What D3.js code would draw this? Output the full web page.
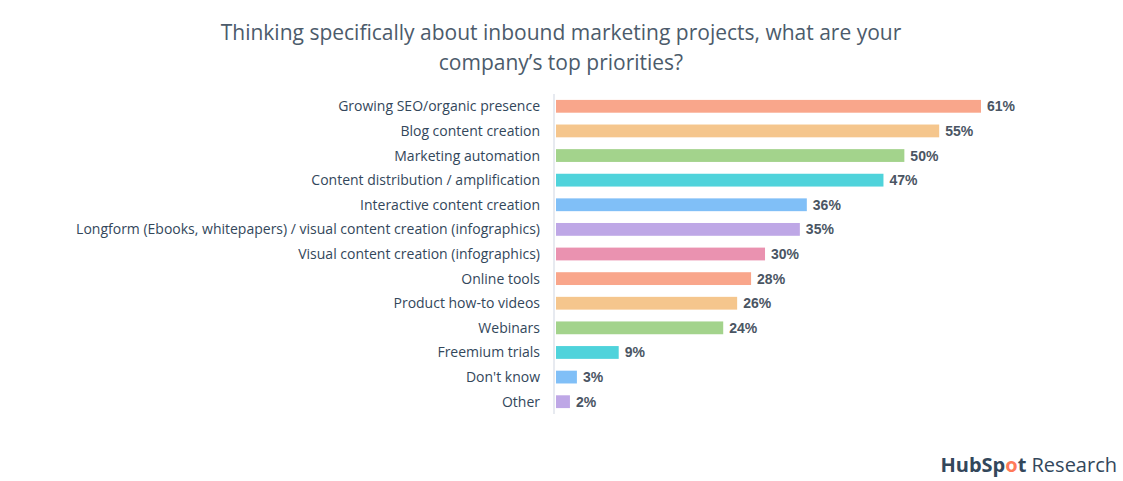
<!DOCTYPE html>
<html><head><meta charset="utf-8">
<script src="https://cdn.jsdelivr.net/npm/d3@7"></script>
<style>body{margin:0;background:#fff;font-family:"Open Sans",sans-serif}</style>
</head><body><div id="chart"></div>
<script>
const categories = ['Growing SEO/organic presence','Blog content creation','Marketing automation','Content distribution / amplification','Interactive content creation','Longform (Ebooks, whitepapers) / visual content creation (infographics)','Visual content creation (infographics)','Online tools','Product how-to videos','Webinars','Freemium trials',"Don't know",'Other'];
const values = [61,55,50,47,36,35,30,28,26,24,9,3,2];
const palette = ['#f9a68b','#f5c68d','#a3d38c','#4fd3db','#80bff7','#bea7e6','#ea92b0'];

const W = 1123, H = 481;
const svg = d3.select('#chart').append('svg').attr('width', W).attr('height', H);

svg.append('text').attr('x', 561).attr('y', 40).attr('text-anchor','middle')
  .attr('fill','#4c5b6b').attr('font-size',21).text('Thinking specifically about inbound marketing projects, what are your');
svg.append('text').attr('x', 561).attr('y', 70).attr('text-anchor','middle')
  .attr('fill','#4c5b6b').attr('font-size',21).text('company\u2019s top priorities?');

const x = d3.scaleLinear().domain([0, 61]).range([556, 981]);
const y = d3.scaleBand().domain(categories).range([94, 414]).paddingInner(0.48).paddingOuter(0.24);

svg.append('line').attr('x1',554).attr('x2',554).attr('y1',94).attr('y2',414)
  .attr('stroke','#dfe3eb').attr('stroke-width',1.5);

svg.selectAll('rect.bar').data(values).enter().append('rect')
  .attr('x', x(0)).attr('y', (d,i) => y(categories[i]))
  .attr('width', d => x(d) - x(0)).attr('height', y.bandwidth())
  .attr('fill', (d,i) => palette[i % palette.length]);

svg.selectAll('text.val').data(values).enter().append('text')
  .attr('x', d => x(d) + 6).attr('y', (d,i) => y(categories[i]) + y.bandwidth()/2 + 5)
  .attr('fill','#4a5563').attr('font-size',14).attr('font-family','Liberation Sans, Arial, sans-serif').attr('font-weight','bold')
  .text(d => d + '%');

svg.selectAll('text.cat').data(categories).enter().append('text')
  .attr('x', 540).attr('y', d => y(d) + y.bandwidth()/2 + 5)
  .attr('text-anchor','end').attr('fill','#33475b').attr('font-size',14).text(d => d);

const logo = svg.append('text').attr('x', 1117).attr('y', 472).attr('text-anchor','end')
  .attr('font-size',20).attr('fill','#33475b');
logo.append('tspan').attr('font-weight','bold').text('HubSp');
logo.append('tspan').attr('font-weight','bold').attr('fill','#ff7a59').text('o');
logo.append('tspan').attr('font-weight','bold').text('t');
logo.append('tspan').text(' Research');
</script></body></html>
